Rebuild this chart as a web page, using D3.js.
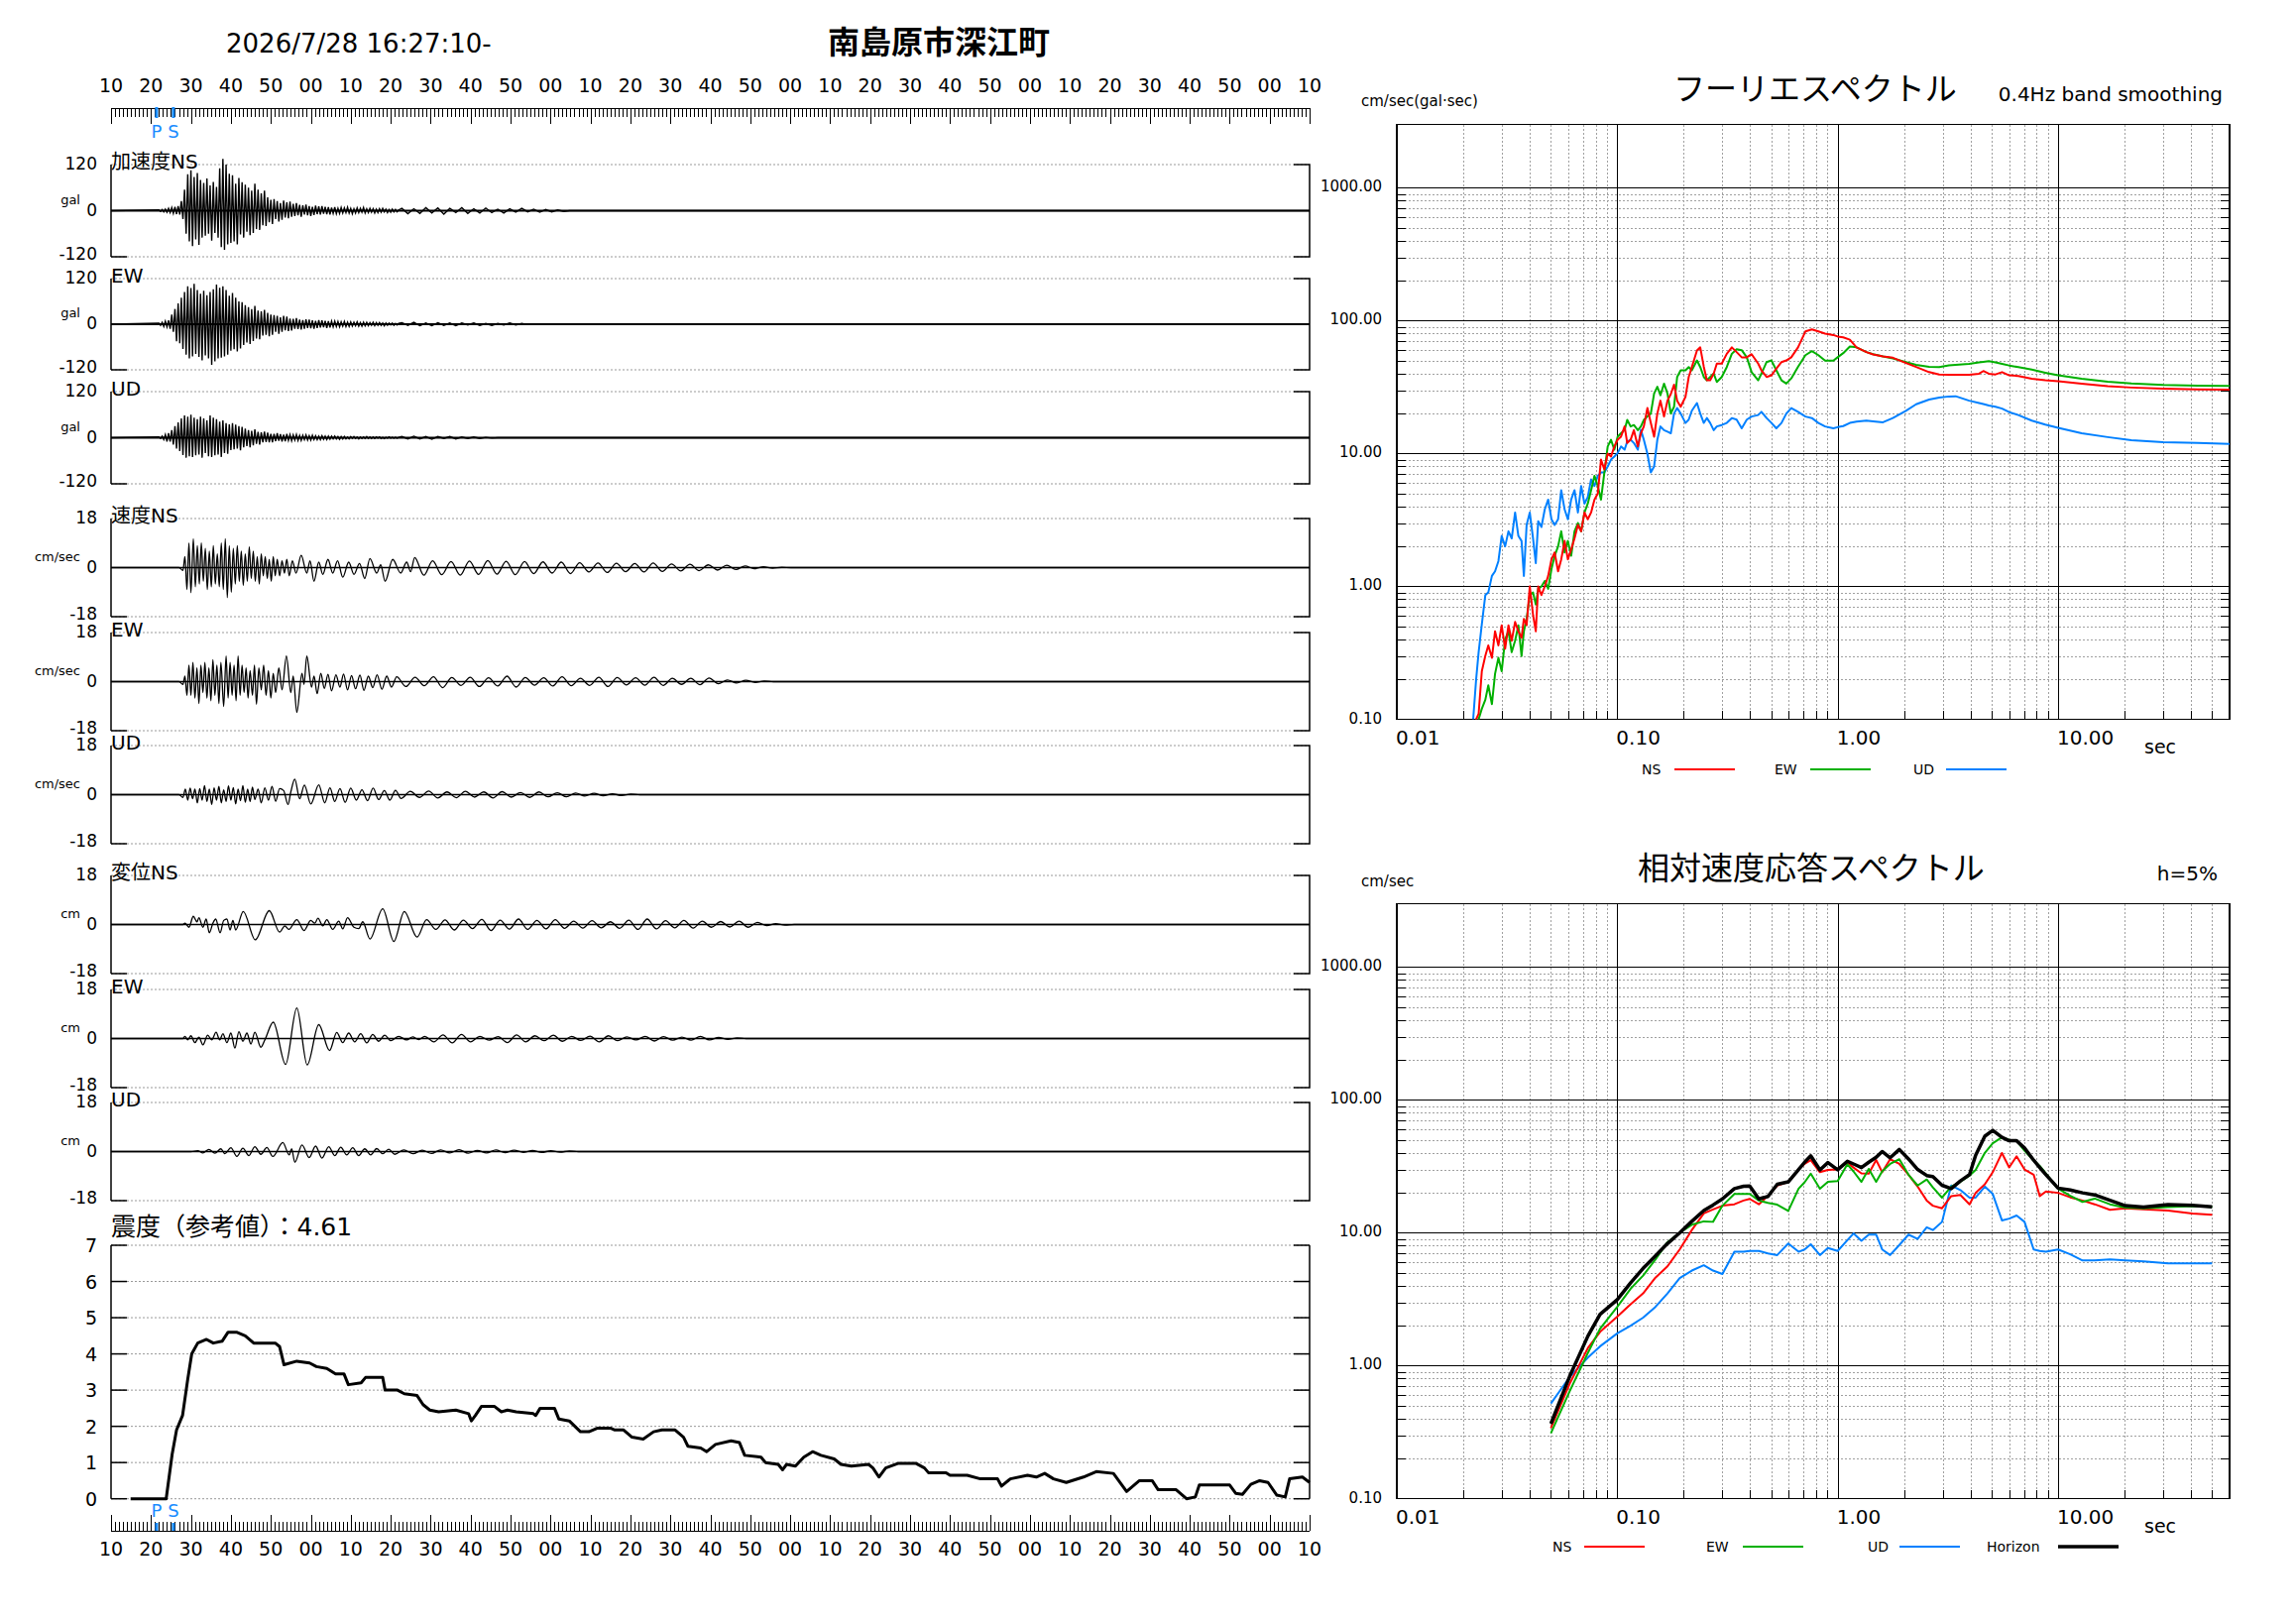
<!DOCTYPE html>
<html>
<head>
<meta charset="utf-8">
<title>南島原市深江町</title>
<script src="https://cdn.jsdelivr.net/npm/d3@7"></script>
<style>
  body { margin: 0; background: #ffffff; }
  text { font-family: "DejaVu Sans", "Noto Sans CJK JP", sans-serif; fill: #000; }
</style>
</head>
<body>
<svg id="chart" width="2316" height="1637"></svg>
<script>
// ---------------- data ----------------
const eventTime = "2026/7/28 16:27:10-";
const stationName = "南島原市深江町";
const timeLabels = ["10","20","30","40","50","00","10","20","30","40","50","00","10","20","30","40","50","00",
                    "10","20","30","40","50","00","10","20","30","40","50","00","10"];
const pTime = 11.4, sTime = 15.6;   // seconds after 16:27:10

const waveLabels = ["加速度NS","EW","UD","速度NS","EW","UD","変位NS","EW","UD"];
const waveUnits  = ["gal","gal","gal","cm/sec","cm/sec","cm/sec","cm","cm","cm"];
const waveMax    = [120,120,120,18,18,18,18,18,18];

// acceleration: alternating peaks, every 0.4 s from 12 s, then every 1.5 s from 72.8 s
const accStart = 12, accStep = 0.4, accTailStart = 72.8, accTailStep = 1.5;
const accNS = [2,-2,3,-3,4,-4,6,-5,8,-7,10,-9,
  12,-10,25,-22,55,-60,
  95,-80,105,-92,88,-75,98,-89,80,-70,
  72,-65,84,-60,66,-78,75,-58,62,-70,
  110,-95,135,-102,120,-88,96,-84,
  92,-80,70,-88,85,-62,74,-70,
  68,-55,60,-64,52,-58,70,-48,55,-50,
  45,-38,52,-40,35,-30,28,-35,
  30,-22,25,-28,20,-24,26,-18,22,-20,24,-16,
  18,-14,20,-12,15,-16,14,-10,16,-12,12,-14,10,-11,13,-9,11,-10,12,-8,10,-9,9,-10,8,
  -7,9,-8,6,-7,8,-6,7,-5,9,-6,6,-8,5,-6,7,-5,6,-4,8,-6,5,-5,6,-4,5,-6,4,-5,5,-4,6,-3,4,-5,3,-4,4,-3,3,-3,2];
const accEW = [3,-3,5,-6,8,-7,10,-12,
  25,-20,40,-45,55,-50,
  70,-65,85,-80,100,-90,95,-85,106,-78,
  90,-86,80,-95,88,-82,76,-90,85,-107,
  92,-98,104,-90,96,-88,100,-85,90,-80,
  75,-70,82,-66,70,-72,60,-64,58,-55,
  50,-48,45,-52,40,-44,48,-38,36,-40,
  34,-30,38,-28,30,-32,25,-28,
  24,-20,22,-25,18,-20,22,-16,20,-18,15,-17,
  14,-12,16,-13,12,-14,11,-12,13,-10,12,-11,10,-12,9,-10,11,-9,10,-8,9,-10,8,-9,8,
  -7,8,-6,7,-7,6,-5,7,-6,5,-6,6,-5,5,-4,6,-5,4,-5,5,-4,5,-4,4,-3,5,-4,4,-3,4,-3,3,-4,3,-3,3,-2,3,-3,2,-2,2];
const accUD = [2,-2,4,-5,8,-10,12,-10,
  20,-18,30,-28,40,-35,
  50,-45,58,-52,55,-48,60,-50,52,-46,
  48,-44,55,-52,50,-40,45,-48,58,-50,
  52,-46,48,-44,42,-50,45,-40,38,-42,
  35,-32,38,-30,34,-28,30,-33,28,-25,
  24,-22,20,-25,18,-20,22,-16,15,-18,
  14,-12,16,-11,13,-12,10,-12,
  10,-9,12,-8,9,-10,8,-9,10,-7,8,-8,
  7,-6,8,-7,6,-7,6,-5,7,-6,5,-6,6,-5,5,-5,4,-5,5,-4,4,-5,4,-4,4,
  -3,4,-3,3,-4,3,-3,3,-3,2,-3,3,-2,3,-2,2,-3,2,-2,2,-2,3,-2,2,-2,2,-2,2,-1,2,-2,1,-2,1,-1,2,-1,1,-1,1,-1,1];
const accNS_tail = [6,-8,5,-7,8,-6,7,-9,6,-5,8,-7,5,-6,7,-5,4,-6,5,-4,6,-3,4,-4,3,-3,2,-2];
const accEW_tail = [4,-3,5,-4,3,-4,4,-3,3,-4,3,-2,3,-3,2,-3,2,-2,3,-2,2,-1];
const accUD_tail = [3,-3,4,-3,3,-4,3,-2,3,-3,2,-2,2,-2,1,-1];

// velocity / displacement: [time, peak] pairs, then regular tail peaks every 2.3 s
const tailStep = 2.3;
const velNS_pk = [[17,0],[18,-1],[18.5,4],[19,-8],[19.5,9],[20,-9.2],[20.6,10.6],[21.1,-7],[21.6,8],[22.1,-6],[22.6,9],[23.1,-5],[23.6,7],[24.1,-8],[24.6,6],[25.1,-7],[25.6,8],[26.1,-6],[26.6,5],[27.1,-7],[27.6,9],[28.1,-8],[28.6,10.6],[29.1,-11],[29.6,8],[30.1,-9],[30.6,7],[31.1,-6],[31.6,8],[32.1,-5],[32.6,6],[33.1,-6.5],[33.6,5],[34.1,-5],[34.6,7.6],[35.1,-4],[35.6,6],[36.1,-5],[36.6,4],[37.1,-6],[37.6,5],[38.1,-3],[38.6,4],[39.1,-4],[39.6,3],[40.1,-5],[40.6,4],[41.1,-3],[41.6,3],[42.2,-3],[42.8,2.5],[43.4,-2],[44,3],[44.6,-3],[45.4,2.5],[46.3,-2],[47.6,4.5],[49,-2],[49.8,2.5],[50.8,-5],[52,2],[53,-2.5],[54.3,3],[55.5,-2],[56.7,2.5],[58,-3.5],[59.5,2],[60.8,-2.5],[62.2,1.5],[63.5,-4],[64.8,3.3],[66.5,-2],[67.5,1],[68.6,-5],[70.5,3],[72.5,-2],[74,2],[75,-1.5],[76,3.7],[78.3,-2.8]];
const velNS_tail = [2.5,-2.6,2.2,-2.8,2.4,-2.5,2.6,-2.4,2.3,-2.6,2.2,-2.2,2.1,-2,2,-2.2,1.8,-1.6,1.7,-1.8,1.6,-1.5,1.5,-1.6,1.7,-1.4,1.3,-1.2,1.2,-1.1,1,-0.9,0.9,-0.7,0.6,-0.4,0.3,-0.2,0.1];
const velEW_pk = [[17,0],[18,-1],[18.5,2],[19,-5],[19.5,6],[20,-5],[20.5,7],[21,-6],[21.5,5],[22,-8],[22.5,6],[23,-4],[23.5,7],[24,-6],[24.5,5],[25,-7],[25.5,8],[26,-5],[26.5,6],[27,-8],[27.5,7],[28.2,-9.1],[28.8,9.4],[29.3,-6],[29.8,7],[30.3,-5],[30.8,6],[31.3,-7],[31.8,9.4],[32.3,-5],[32.8,6],[33.3,-4],[33.8,5],[34.3,-6],[34.8,4],[35.4,-5],[35.9,6],[36.4,-8.3],[37,5],[37.6,-3],[38.2,6],[38.8,-5],[39.4,4],[40,-6],[40.6,3],[41.2,-4],[42,5],[42.8,-3],[43.9,9.4],[45,-4],[45.6,2],[46.5,-11.3],[47.8,3],[48.3,-1],[49,9.4],[50.2,-2],[50.8,2],[51.6,-4.4],[52.5,3],[53.4,-2.5],[54.3,2.7],[55.2,-3.4],[56.3,2.5],[57.3,-2],[58.2,2.8],[59.2,-3],[60.2,2.2],[61.2,-2.6],[62.3,2.4],[63.3,-3.2],[64.4,2],[65.5,-2.2],[66.6,2.5],[67.8,-2.8],[69,2],[70.2,-2],[71.5,1.8]];
const velEW_tail = [-1.8,1.6,-1.5,1.8,-2.2,1.5,-1.4,1.6,-1.8,1.4,-1.6,2,-2,1.5,-1.3,1.4,-1.6,1.8,-1.5,1.2,-1.4,1.6,-1.8,1.5,-1.2,1.4,-1.3,1.6,-1.4,1.2,-1,1.2,-1.1,1.3,-0.8,0.6,-0.5,0.5,-0.3,0.2];
const velUD_pk = [[17,0],[18,-1],[18.6,2],[19.2,-2],[19.8,2.4],[20.4,-1.5],[21,2],[21.6,-3],[22.2,2.2],[22.8,-2],[23.4,3.3],[24,-2.5],[24.6,2],[25.2,-3.6],[25.8,2.5],[26.4,-2],[27,3],[27.6,-3],[28.2,1.8],[28.8,-2.5],[29.4,3.2],[30,-2],[30.6,2.6],[31.2,-3.4],[31.8,2],[32.4,-2.2],[33,3.3],[33.6,-2.8],[34.2,2],[34.8,-2.5],[35.4,2.8],[36,-1.8],[36.8,2],[37.6,-3],[38.5,2.5],[39.4,-2],[40.3,3],[41.2,-2.4],[42.2,2.2],[43.2,1.5],[44.3,-3.6],[45,1],[46,5.7],[47.2,-1.5],[48.4,3.5],[50,-3.4],[52,3.6],[53.5,-3],[54.8,2.5],[56,-2.5],[57.3,2.2],[58.6,-2.8],[60,2.4],[61.4,-2],[62.8,1.8],[64.2,-2.2],[65.6,2.4],[67,-1.8],[68.4,1.5],[69.8,-2],[71.2,1.6],[72.6,-1.4]];
const velUD_tail = [1.2,-1,1.3,-1.2,1,-1.1,1.2,-0.9,1,-1.2,1.1,-0.9,0.8,-1,1,-0.8,0.7,-0.8,0.6,-0.5,0.5,-0.4,0.3,-0.3,0.2];
const dispNS_pk = [[18,0],[18.5,0.5],[19.5,-1],[20.6,3],[21.5,1],[22,2.5],[23,-1],[23.8,2],[24.6,-3],[25.5,0.5],[26.2,2],[27.3,-3],[28.2,1.5],[29,2],[29.8,-2],[30.5,1.5],[31.2,-2],[33.1,4.8],[36.1,-5.6],[39.6,5.1],[42.2,-2.8],[43.5,-0.5],[44.5,-1.8],[46.5,1.8],[48.3,-2.2],[50,1.5],[51,0.5],[51.8,2.3],[53,-0.5],[54,1.8],[55.5,-1.8],[57,1.2],[58,-1.6],[59.2,2.5],[60.8,-1],[62,-1.5],[63,1],[64.8,-5.3],[68,5.8],[70.8,-6.2],[73.4,4.8],[76.6,-4.6],[79,1.8]];
const dispNS_tail = [-1.8,1.7,-2,1.6,-1.5,1.9,-2.2,1.6,-1.7,2,-1.8,1.5,-1.6,1.8,-1.4,1.2,-1.3,1.4,-1.2,1,-1.4,1.6,-1.8,2,-1.6,1.4,-1.2,1.5,-1.3,1.2,-1,1.1,-0.9,1.2,-1,0.8,-0.4,0.3,-0.2];
const dispEW_pk = [[18,0],[18.5,0.8],[19.2,-0.5],[20,1],[21,-1.5],[22,0.5],[23,-2.3],[24.2,1.2],[25.2,-0.5],[26.3,2.3],[27.2,-0.5],[28,1.8],[29,-1.5],[30,2],[31,-3.5],[32,2.5],[33,-1],[34,2],[35,-2],[36,2.3],[37.5,-3.2],[38.5,-0.5],[40.6,6],[43.7,-9.5],[46.5,11.2],[49.1,-9.7],[52,5.1],[54.7,-4.4],[56.5,2.2],[58,-1.5],[59.5,2],[61,-1.2],[62.5,1.8],[64,-1.6],[65.5,1.5],[67,-1],[68.5,1.2],[70,-0.8],[72,0.8],[74,-0.5],[75.5,0.6],[77,-0.4],[78.5,0.8]];
const dispEW_tail = [-1.2,1.3,-1.6,1.5,-1.2,0.8,-0.6,0.7,-1.5,1.3,-1.2,1,-0.8,1.2,-1,0.8,-0.7,0.9,-1.2,1,-0.8,0.6,-0.5,0.8,-0.9,0.7,-0.6,0.5,-0.6,0.8,-0.5,0.4,-0.3,0.2];
const dispUD_pk = [[20,0],[21.7,0.3],[23,-0.5],[24.5,0.8],[26,-0.6],[27.5,1],[28.5,-0.8],[30,1.4],[31.5,-1.8],[33,1.2],[34.5,-1.5],[36,1.8],[37.5,-1],[39,1.5],[40.5,-1.8],[43,3.3],[44.6,-1.2],[45.2,1],[46,-3.9],[47.8,2.4],[49.6,-2.2],[51.2,2],[52.8,-2.4],[54.5,1.8],[56,-1.5],[57.5,1.6],[59,-1.2],[60.5,1.4],[62,-1.5],[63.5,1],[65,-1.2],[66.5,1.1],[68,-0.8],[69.5,0.9],[71,-1]];
const dispUD_tail = [0.6,-0.8,0.5,-0.7,0.6,-0.5,0.7,-0.6,0.4,-0.5,0.6,-0.4,0.5,-0.3,0.4,-0.3,0.3,-0.2,0.2];
const tailStart = [80.5, 73.8, 74.9, 81.3, 80.8, 73.3];

// seismic intensity (reference value)
const intensityLabel = "震度（参考値）：4.61";
const intensityTime = [4.9,13.8,15.3,16.4,17.9,19.2,20.2,21.7,23.9,25.6,27.8,29.3,31.4,33.6,35.7,39.0,41.1,42.2,43.3,46.5,49.7,51.4,54.0,56.2,58.3,59.4,62.6,63.7,68.0,68.6,71.7,73.4,76.6,78.1,79.8,82.0,86.3,89.5,90.2,91.2,92.7,96.0,97.7,99.2,101.4,105.7,106.3,107.4,111.0,112.1,114.7,117.5,119.6,121.8,125.0,126.1,128.3,130.4,133.2,135.8,137.9,141.2,143.3,144.4,147.6,149.1,151.3,155.2,157.3,158.6,162.7,163.8,167.0,168.1,169.1,171.3,173.4,175.6,177.7,181.0,182.7,185.3,189.6,190.7,192.2,193.9,197.1,201.4,203.6,204.6,209.0,210.0,214.3,217.6,221.9,222.9,225.1,229.4,231.6,233.7,235.9,239.1,243.4,246.6,250.9,254.2,257.4,260.6,262.1,266.6,269.2,271.4,272.4,280.0,281.5,283.2,285.3,287.5,289.6,291.8,293.9,295.0,298.2,300];
const intensityValue = [0,0,1.23,1.9,2.3,3.3,4.0,4.3,4.4,4.3,4.35,4.6,4.6,4.5,4.3,4.3,4.3,4.2,3.7,3.8,3.75,3.65,3.6,3.45,3.45,3.15,3.2,3.35,3.35,3.0,3.0,2.9,2.85,2.6,2.45,2.4,2.45,2.35,2.15,2.3,2.55,2.55,2.4,2.45,2.4,2.35,2.3,2.5,2.5,2.2,2.15,1.85,1.85,1.95,1.95,1.9,1.9,1.7,1.65,1.85,1.9,1.9,1.7,1.45,1.4,1.3,1.5,1.6,1.55,1.2,1.15,1.0,0.95,0.8,0.95,0.9,1.15,1.3,1.2,1.1,0.95,0.9,0.95,0.85,0.6,0.85,0.98,0.98,0.85,0.72,0.72,0.65,0.65,0.55,0.55,0.35,0.55,0.65,0.6,0.7,0.55,0.45,0.6,0.75,0.7,0.2,0.5,0.5,0.25,0.25,0.0,0.05,0.38,0.38,0.15,0.12,0.4,0.5,0.45,0.1,0.05,0.55,0.6,0.45];
const intensityTicks = [0,1,2,3,4,5,6,7];

// Fourier spectrum (0.4Hz band smoothing), period in sec
const fourierPeriod = [0.0222,0.0229,0.0235,0.0243,0.0252,0.0260,0.0270,0.0279,0.0289,0.0299,
  0.0310,0.0321,0.0332,0.0344,0.0356,0.0368,0.0377,0.0388,0.0401,0.0415,
  0.0427,0.0438,0.0453,0.0469,0.0486,0.0503,0.0520,0.0539,0.0557,0.0577,
  0.0597,0.0618,0.0640,0.0663,0.0686,0.0710,0.0735,0.0761,0.0788,0.0816,
  0.0844,0.0874,0.0905,0.0937,0.0970,0.1004,0.104,0.108,0.111,0.115,
  0.119,0.124,0.128,0.132,0.137,0.142,0.147,0.152,0.157,0.163,
  0.169,0.175,0.181,0.187,0.194,0.204,0.211,0.218,0.230,0.238,
  0.247,0.255,0.264,0.274,0.283,0.298,0.314,0.331,0.348,0.367,
  0.387,0.407,0.436,0.451,0.476,0.501,0.527,0.556,0.585,0.616,
  0.661,0.714,0.764,0.818,0.877,0.956,1.0,1.06,1.136,1.218,
  1.35,1.448,1.606,1.781,2.04,2.27,2.6,2.89,3.2,3.43,
  3.95,4.38,4.58,4.85,5.2,5.57,6.0,6.6,7.6,8.75,
  10,12.8,16.8,21.5,30,43,60];
const fourierNS = [0.07,0.1,0.11,0.23,0.30,0.36,0.29,0.46,0.36,0.51,
  0.34,0.51,0.39,0.54,0.46,0.41,0.57,0.51,1.0,0.61,
  0.46,1.0,0.86,1.0,1.2,1.6,1.8,1.3,1.6,2.2,
  1.6,1.9,2.3,2.9,2.6,3.6,3.2,3.6,4.5,5.0,
  9.0,7.6,10,9.5,11.3,12.7,13.4,16,12,12.7,
  15,11.3,14.2,16,22,17,13.4,20,25,19,
  25,28,33,25,22.5,26.7,37.7,44.8,59.7,63,
  45,35.6,35.6,40,47.5,47.5,56.3,63,58,53,
  53,56,47.5,42.3,37.7,38.8,43.6,48.8,50.2,53,
  63,83,86,83,80,78,76,75,72,63,
  58,55.7,53.8,52.6,48,44.8,41,39.4,39.2,39.2,
  39.2,39.9,41.8,39.9,39.4,41,38.8,38.4,36.6,35.6,
  35,33.6,32.1,31.4,30.8,30.4,30.3];
const fourierEW = [0.05,0.07,0.1,0.12,0.14,0.18,0.13,0.22,0.29,0.23,
  0.40,0.46,0.32,0.39,0.51,0.30,0.46,0.57,0.86,0.9,
  0.73,0.96,1.0,1.1,0.96,1.35,1.7,2.0,2.6,1.8,
  2.2,1.7,2.6,3.0,2.6,3.6,4.2,5.3,6.8,5.7,
  4.5,7.2,11.3,12.7,10.7,13.4,14.2,15,17.9,16,
  16.4,15,16,17.9,19,20,28.3,31.8,27.5,33.6,
  28.3,20,22.5,37.7,42.3,42.3,44.8,42.3,50.2,44.8,
  37.7,35.6,37.7,40,34.6,37.7,44.8,56.3,61,60,
  53,41,35.6,40,48.8,50.2,42.3,35.6,33.6,36.8,
  45,55,59,55,50,50,53,57,64,63,
  58,56,53.8,52,48.8,46.5,45,44.7,46.1,46.5,
  47.4,48.5,49,49.6,48.5,47.4,46,44.7,42.8,40.6,
  38.8,36.6,34.8,33.7,32.8,32.4,32.3];
const fourierUD = [0.1,0.2,0.32,0.52,0.86,0.9,1.2,1.3,1.55,2.4,
  2.0,2.6,2.3,3.6,2.4,2.2,1.2,2.9,3.6,2.3,
  1.5,3.1,2.8,3.8,4.5,3.2,2.9,3.2,5.3,3.8,
  3.2,4.5,5.3,3.6,5.7,4.2,4.7,6.4,5.7,6.8,
  7.2,7.2,8.0,9.0,9.5,10.1,11.3,10.7,12.3,12.7,
  12,10.7,15.1,12.7,10,7.2,8,12.7,16,15,
  14.6,14.2,20,22,20,17,18,21,24,20,
  17,18.5,17,15,16,16.4,17,18.5,18,15.5,
  18,19,19.5,20.6,18.5,17,15.5,17,20,22,
  20.6,19,18.5,17,16,15.5,15.8,16.1,17,17.4,
  17.7,17.5,17.2,18.5,21,23.5,25.5,26.4,26.9,27,
  25,24,23.6,23,22.5,21.8,20.5,19.5,17.7,16.5,
  15.6,14.2,13.3,12.6,12.2,12,11.8];

// relative velocity response spectrum, h=5%
const respPeriod = [0.05,0.0608,0.0736,0.0836,0.1,0.115,0.131,0.149,0.169,0.192,
  0.218,0.247,0.272,0.3,0.34,0.374,0.399,0.439,0.483,0.532,
  0.597,0.665,0.708,0.755,0.831,0.903,1.0,1.107,1.18,1.282,
  1.384,1.495,1.592,1.73,1.905,2.096,2.306,2.536,2.704,2.976,
  3.275,3.604,3.965,4.227,4.653,5.054,5.563,6.0,6.484,7.043,
  7.75,8.26,8.81,10,11.36,12.91,14.66,17.19,20.16,24.42,
  31.53,40.7,50];
const respNS = [0.34,0.73,1.36,1.8,2.34,2.9,3.5,4.6,5.6,7.5,
  10.5,14,15,16,16.4,17.5,18,16.4,19,22.7,
  24.2,30,33,35.3,28.6,29.8,30,33.8,31,28,
  27.9,35.3,28.6,35.8,33,27.4,22.3,17.5,16,15.3,
  18.9,19.3,16.4,20,23.2,28.6,39.9,31.1,37.7,30,
  27.4,18.9,20.5,20,18.5,17.5,16.4,14.9,15.3,15,
  14.7,14,13.7];
const respEW = [0.31,0.64,1.25,1.9,2.77,3.8,4.76,6.3,8.5,10,
  11.5,12.2,12.1,16,19.6,19.6,19.6,17.5,16.8,16.3,
  14.6,21.5,24,27.9,21.5,24.2,24.5,32.8,29,24.2,
  30.3,24.2,29,33,35.8,27.4,22.7,25.2,22,18.4,
  22.3,24.2,27,29.8,40,47.2,52.4,50,49.3,41.6,
  35,31.9,28,21.5,19,17.1,18.1,16.4,15.5,15.3,
  15.6,15.9,15.7];
const respUD = [0.52,0.82,1.15,1.4,1.75,2.0,2.3,2.77,3.5,4.56,
  5.2,5.7,5.2,4.9,7.2,7.2,7.3,7.3,7.0,6.8,
  8.3,7.2,7.5,8.2,6.8,7.7,7.3,8.8,9.9,8.7,
  9.7,9.7,7.5,6.8,8.1,9.7,9.0,11,10.5,12.1,
  22.7,21,18.4,18.4,22.3,19.6,12.4,12.8,13.5,12.1,
  7.5,7.3,7.2,7.5,6.9,6.2,6.2,6.3,6.2,6.1,
  5.9,5.9,5.9];
const respH = [0.366,0.83,1.67,2.44,3.14,4.2,5.4,6.7,8.3,10,
  12.2,14.7,16.2,18,21.5,22.4,22.5,18,18.8,23.2,
  24.2,30,34,38,29.8,33.8,29.8,34.6,33,31,
  34,37,40.9,36.7,42.4,36,30,27,26.5,22.8,
  21.5,24.6,27.4,38.3,53.4,59.1,52.4,49.3,49.3,43.5,
  35.2,31,27.4,21.7,21,20,19.3,17.6,16,15.6,
  16.3,16.1,15.7];

const specYTicks = [1000, 100, 10, 1, 0.1];
const specYLabels = ["1000.00","100.00","10.00","1.00","0.10"];
const specXTicks = [0.01, 0.1, 1, 10];
const specXLabels = ["0.01","0.10","1.00","10.00"];

// ---------------- drawing ----------------
const svg = d3.select("#chart");
const BLUE = "#1a8cff";
const colors = { NS: "#ff0000", EW: "#00b000", UD: "#0080ff", H: "#000000" };

// titles
svg.append("text").attr("x", 228).attr("y", 53).style("font-size", "26px").text(eventTime);
svg.append("text").attr("x", 947).attr("y", 54).attr("text-anchor", "middle")
  .style("font-size", "32px").style("font-weight", "bold").text(stationName);

// time scale for the left column (0..300 s after 16:27:10)
const tx = d3.scaleLinear().domain([0, 300]).range([112, 1321]);

function drawRuler(yLine, dir, labelY, markTop, markBot, psLabelY) {
  const g = svg.append("g").attr("shape-rendering", "crispEdges");
  g.append("line").attr("x1", tx(0)).attr("x2", tx(300)).attr("y1", yLine).attr("y2", yLine)
    .attr("stroke", "#000");
  d3.range(0, 301).forEach(s => {
    const len = s % 10 === 0 ? 16 : 9;
    g.append("line").attr("x1", Math.round(tx(s)) + 0.5).attr("x2", Math.round(tx(s)) + 0.5)
      .attr("y1", yLine).attr("y2", yLine + dir * len).attr("stroke", "#000");
  });
  timeLabels.forEach((lb, i) => {
    svg.append("text").attr("x", tx(i * 10)).attr("y", labelY).attr("text-anchor", "middle")
      .style("font-size", "19px").text(lb);
  });
  [[pTime, "P"], [sTime, "S"]].forEach(([t, lb]) => {
    svg.append("line").attr("x1", tx(t)).attr("x2", tx(t)).attr("y1", markTop).attr("y2", markBot)
      .attr("stroke", BLUE).attr("stroke-width", 3);
    svg.append("text").attr("x", tx(t)).attr("y", psLabelY).attr("text-anchor", "middle")
      .style("font-size", "18px").style("fill", BLUE).text(lb);
  });
}
drawRuler(109, 1, 93, 108, 119, 139);
drawRuler(1544, -1, 1569, 1536, 1544, 1530);

// waveform panels
const panelTop = [166, 281, 395, 523, 638, 752, 883, 998, 1112];
const panelBot = [259, 373, 488, 622, 737, 851, 982, 1097, 1211];

function sampled(t0, dt, vals) { return vals.map((v, i) => [t0 + i * dt, v]); }
function accPoints(fast, tail) {
  const a = sampled(accStart, accStep, fast);
  const b = sampled(accTailStart, accTailStep, tail);
  return [[0, 0], ...a, ...b, [b[b.length - 1][0] + accTailStep, 0], [300, 0]];
}
function wavePoints(pk, t0, tail) {
  const b = sampled(t0, tailStep, tail);
  return [[0, 0], ...pk, ...b, [b[b.length - 1][0] + tailStep, 0], [300, 0]];
}
const traces = [
  accPoints(accNS, accNS_tail), accPoints(accEW, accEW_tail), accPoints(accUD, accUD_tail),
  wavePoints(velNS_pk, tailStart[0], velNS_tail), wavePoints(velEW_pk, tailStart[1], velEW_tail),
  wavePoints(velUD_pk, tailStart[2], velUD_tail), wavePoints(dispNS_pk, tailStart[3], dispNS_tail),
  wavePoints(dispEW_pk, tailStart[4], dispEW_tail), wavePoints(dispUD_pk, tailStart[5], dispUD_tail)
];

traces.forEach((pts, i) => {
  const top = panelTop[i], bot = panelBot[i], m = waveMax[i];
  const y = d3.scaleLinear().domain([-m, m]).range([bot, top]);
  const g = svg.append("g");
  const x0 = tx(0), x1 = tx(300);
  // dotted guide lines
  [m, 0, -m].forEach(v => {
    g.append("line").attr("x1", x0).attr("x2", x1).attr("y1", y(v)).attr("y2", y(v))
      .attr("stroke", "#999").attr("stroke-dasharray", "2,2");
  });
  // frame: left line, right bracket, bottom-left stub
  const fr = g.append("g").attr("stroke", "#000").attr("stroke-width", 1.5).attr("fill", "none");
  fr.append("line").attr("x1", x0).attr("x2", x0).attr("y1", top).attr("y2", bot);
  fr.append("path").attr("d", `M${x1 - 16},${top}H${x1}V${bot}H${x1 - 16}`);
  fr.append("line").attr("x1", x0).attr("x2", x0 + 16).attr("y1", bot).attr("y2", bot);
  // baseline
  g.append("line").attr("x1", x0).attr("x2", x1).attr("y1", y(0)).attr("y2", y(0))
    .attr("stroke", "#000").attr("stroke-width", i < 3 ? 2.2 : 1.4);
  // trace
  const line = d3.line().x(d => tx(d[0])).y(d => y(d[1]))
    .curve(i < 3 ? d3.curveLinear : d3.curveMonotoneX);
  g.append("path").datum(pts).attr("d", line).attr("fill", "none")
    .attr("stroke", "#000").attr("stroke-width", i < 3 ? 1.4 : 1.3);
  // labels
  g.append("text").attr("x", 98).attr("y", top + 5).attr("text-anchor", "end")
    .style("font-size", "17px").text(m);
  g.append("text").attr("x", 98).attr("y", y(0) + 5).attr("text-anchor", "end")
    .style("font-size", "17px").text("0");
  g.append("text").attr("x", 98).attr("y", bot + 3).attr("text-anchor", "end")
    .style("font-size", "17px").text(-m);
  g.append("text").attr("x", 81).attr("y", y(0) - 7).attr("text-anchor", "end")
    .style("font-size", "13px").text(waveUnits[i]);
  g.append("text").attr("x", 112).attr("y", top + 4).style("font-size", "20px").text(waveLabels[i]);
});

// seismic intensity panel
const iy = d3.scaleLinear().domain([0, 7]).range([1511.7, 1256]);
const ig = svg.append("g");
intensityTicks.forEach(v => {
  ig.append("line").attr("x1", tx(0)).attr("x2", tx(300)).attr("y1", iy(v)).attr("y2", iy(v))
    .attr("stroke", "#999").attr("stroke-dasharray", "2,2");
  ig.append("line").attr("x1", tx(0)).attr("x2", tx(0) + 16).attr("y1", iy(v)).attr("y2", iy(v))
    .attr("stroke", "#000").attr("stroke-width", 1.5);
  ig.append("line").attr("x1", tx(300) - 16).attr("x2", tx(300)).attr("y1", iy(v)).attr("y2", iy(v))
    .attr("stroke", "#000").attr("stroke-width", 1.5);
  ig.append("text").attr("x", 98).attr("y", iy(v) + 7).attr("text-anchor", "end")
    .style("font-size", "19px").text(v);
});
[0, 300].forEach(t => {
  ig.append("line").attr("x1", tx(t)).attr("x2", tx(t)).attr("y1", iy(7)).attr("y2", iy(0))
    .attr("stroke", "#000").attr("stroke-width", 1.5);
});
ig.append("path").datum(intensityTime.map((t, i) => [t, intensityValue[i]]))
  .attr("d", d3.line().x(d => tx(d[0])).y(d => iy(d[1])))
  .attr("fill", "none").attr("stroke", "#000").attr("stroke-width", 3).attr("stroke-linejoin", "round");
svg.append("text").attr("x", 112).attr("y", 1246).style("font-size", "25px").text(intensityLabel);

// ---------------- spectra ----------------
function drawSpectrum(cfg) {
  const x = d3.scaleLog().domain([0.01, 60]).range([1409, 2249]);
  const y = d3.scaleLog().domain([0.1, 3000]).range([cfg.bottom, cfg.bottom - 600]);
  const g = svg.append("g");
  const [xl, xr] = x.range(), yb = cfg.bottom, yt = cfg.bottom - 600;
  const grid = g.append("g").attr("shape-rendering", "crispEdges");

  // minor grid
  const xMinor = [];
  [0.01, 0.1, 1, 10].forEach(d => d3.range(2, 10).forEach(k => { if (d * k < 60) xMinor.push(d * k); }));
  const yMinor = [];
  [0.1, 1, 10, 100].forEach(d => d3.range(2, 10).forEach(k => yMinor.push(d * k)));
  xMinor.forEach(v => {
    const px = Math.round(x(v)) + 0.5;
    grid.append("line").attr("x1", px).attr("x2", px).attr("y1", yt).attr("y2", yb)
      .attr("stroke", "#a0a0a0").attr("stroke-dasharray", "2,2");
    grid.append("line").attr("x1", px).attr("x2", px).attr("y1", yb - 9).attr("y2", yb).attr("stroke", "#000");
  });
  yMinor.forEach(v => {
    const py = Math.round(y(v)) + 0.5;
    grid.append("line").attr("x1", xl).attr("x2", xr).attr("y1", py).attr("y2", py)
      .attr("stroke", "#a0a0a0").attr("stroke-dasharray", "2,2");
    grid.append("line").attr("x1", xl).attr("x2", xl + 9).attr("y1", py).attr("y2", py).attr("stroke", "#000");
    grid.append("line").attr("x1", xr - 9).attr("x2", xr).attr("y1", py).attr("y2", py).attr("stroke", "#000");
  });
  // major grid
  [0.1, 1, 10].forEach(v => {
    const px = Math.round(x(v)) + 0.5;
    grid.append("line").attr("x1", px).attr("x2", px).attr("y1", yt).attr("y2", yb).attr("stroke", "#000");
  });
  [1, 10, 100, 1000].forEach(v => {
    const py = Math.round(y(v)) + 0.5;
    grid.append("line").attr("x1", xl).attr("x2", xr).attr("y1", py).attr("y2", py).attr("stroke", "#000");
  });
  grid.append("rect").attr("x", xl).attr("y", yt).attr("width", xr - xl).attr("height", yb - yt)
    .attr("fill", "none").attr("stroke", "#000").attr("stroke-width", 1.5);

  // tick labels
  specYTicks.forEach((v, i) => {
    g.append("text").attr("x", 1394).attr("y", y(v) + 4).attr("text-anchor", "end")
      .style("font-size", "15px").text(specYLabels[i]);
  });
  specXTicks.forEach((v, i) => {
    g.append("text").attr("x", x(v) - 1).attr("y", yb + 25).style("font-size", "20px").text(specXLabels[i]);
  });
  g.append("text").attr("x", 2163).attr("y", yb + 34).style("font-size", "19px").text("sec");
  g.append("text").attr("x", 1373).attr("y", cfg.unitY).style("font-size", "15px").text(cfg.unit);
  g.append("text").attr("x", cfg.titleX).attr("y", cfg.titleY).style("font-size", "32px").text(cfg.title);
  g.append("text").attr("x", cfg.noteX).attr("y", cfg.titleY + 1).attr("text-anchor", cfg.noteAnchor)
    .style("font-size", "20px").text(cfg.note);

  // curves
  const clipId = "clip" + Math.round(cfg.bottom);
  svg.append("clipPath").attr("id", clipId).append("rect")
    .attr("x", xl).attr("y", yt).attr("width", xr - xl).attr("height", yb - yt);
  const curves = g.append("g").attr("clip-path", `url(#${clipId})`);
  cfg.series.forEach(s => {
    curves.append("path").datum(cfg.period.map((p, i) => [p, s.values[i]]))
      .attr("d", d3.line().x(d => x(d[0])).y(d => y(d[1])))
      .attr("fill", "none").attr("stroke", s.color).attr("stroke-width", s.width)
      .attr("stroke-linejoin", "round");
  });

  // legend
  cfg.legend.forEach(l => {
    g.append("text").attr("x", l.tx).attr("y", cfg.legendY + 5).style("font-size", "14px").text(l.name);
    g.append("line").attr("x1", l.lx).attr("x2", l.lx + 61).attr("y1", cfg.legendY).attr("y2", cfg.legendY)
      .attr("stroke", l.color).attr("stroke-width", l.width);
  });
}

drawSpectrum({
  bottom: 725.5, unit: "cm/sec(gal·sec)", unitY: 107,
  title: "フーリエスペクトル", titleX: 1688, titleY: 101,
  note: "0.4Hz band smoothing", noteX: 2242, noteAnchor: "end",
  period: fourierPeriod,
  series: [
    { values: fourierUD, color: colors.UD, width: 2 },
    { values: fourierEW, color: colors.EW, width: 2 },
    { values: fourierNS, color: colors.NS, width: 2 }
  ],
  legendY: 776,
  legend: [
    { name: "NS", tx: 1656, lx: 1689, color: colors.NS, width: 2 },
    { name: "EW", tx: 1790, lx: 1826, color: colors.EW, width: 2 },
    { name: "UD", tx: 1930, lx: 1963, color: colors.UD, width: 2 }
  ]
});

drawSpectrum({
  bottom: 1511.5, unit: "cm/sec", unitY: 894,
  title: "相対速度応答スペクトル", titleX: 1652, titleY: 887,
  note: "h=5%", noteX: 2237, noteAnchor: "end",
  period: respPeriod,
  series: [
    { values: respUD, color: colors.UD, width: 2 },
    { values: respNS, color: colors.NS, width: 2 },
    { values: respEW, color: colors.EW, width: 2 },
    { values: respH, color: colors.H, width: 3.5 }
  ],
  legendY: 1560,
  legend: [
    { name: "NS", tx: 1566, lx: 1598, color: colors.NS, width: 2 },
    { name: "EW", tx: 1721, lx: 1758, color: colors.EW, width: 2 },
    { name: "UD", tx: 1884, lx: 1916, color: colors.UD, width: 2 },
    { name: "Horizon", tx: 2004, lx: 2076, color: colors.H, width: 3.5 }
  ]
});
</script>
</body>
</html>
